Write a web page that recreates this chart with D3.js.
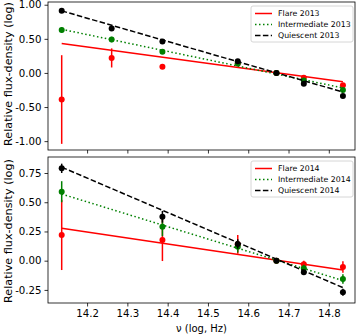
<!DOCTYPE html>
<html>
<head>
<meta charset="utf-8">
<script src="https://cdn.jsdelivr.net/npm/d3@7"></script>
<style>
  body { margin: 0; background: #fff; }
  svg { display: block; font-family: "DejaVu Sans", sans-serif; }
</style>
</head>
<body>
<div id="chart"></div>
<script>
var svgWidth = 357;
var svgHeight = 334;

// frequencies (log Hz)
var freq2013 = [14.137, 14.261, 14.387, 14.574, 14.670, 14.738, 14.835];
var freq2014 = [14.137, 14.387, 14.574, 14.670, 14.738, 14.835];

// 2013 points and errors
var flare2013 = [-0.39, 0.22, 0.09, 0.14, 0, -0.07, -0.18];
var flare2013Err = [0.65, 0.14, 0.01, 0.04, 0, 0.03, 0.03];
var inter2013 = [0.63, 0.49, 0.31, 0.14, 0, -0.11, -0.25];
var inter2013Err = [0.04, 0.04, 0.03, 0.03, 0, 0.03, 0.03];
var quies2013 = [0.91, 0.65, 0.46, 0.17, 0, -0.16, -0.34];
var quies2013Err = [0.02, 0.03, 0.02, 0.02, 0, 0.02, 0.02];

// 2014 points and errors
var flare2014 = [0.22, 0.177, 0.14, 0, -0.03, -0.054];
var flare2014Err = [0.30, 0.18, 0.08, 0, 0.03, 0.05];
var inter2014 = [0.59, 0.29, 0.12, 0, -0.065, -0.157];
var inter2014Err = [0.09, 0.08, 0.05, 0, 0.03, 0.04];
var quies2014 = [0.79, 0.376, 0.143, 0, -0.10, -0.27];
var quies2014Err = [0.04, 0.05, 0.04, 0, 0.02, 0.03];

// fitted power laws: value at first and last frequency
var flare2013Fit = [0.43, -0.13];
var inter2013Fit = [0.64, -0.22];
var quies2013Fit = [0.91, -0.28];
var flare2014Fit = [0.277, -0.08];
var inter2014Fit = [0.57, -0.17];
var quies2014Fit = [0.80, -0.23];

var xTicks = [14.2, 14.3, 14.4, 14.5, 14.6, 14.7, 14.8];
var yTicks2013 = [1.0, 0.5, 0.0, -0.5, -1.0];
var yTicks2014 = [0.75, 0.5, 0.25, 0.0, -0.25];

var red = "#ff0000", green = "#008000", black = "#000000";
var dashes = { solid: null, dotted: "1.5,2.5", dashed: "5.5,2.4" };

var margin = { left: 48, right: 2 };
var plotW = svgWidth - margin.left - margin.right;

var svg = d3.select("#chart").append("svg")
    .attr("width", svgWidth)
    .attr("height", svgHeight);

var x = d3.scaleLinear().domain([14.103, 14.865]).range([0, plotW]);

function drawPanel(top, height, yDomain, yTicks, freqs, series, showXLabels) {
    var y = d3.scaleLinear().domain(yDomain).range([height, 0]);
    var g = svg.append("g").attr("transform", `translate(${margin.left},${top})`);

    // series: error bars, points, fit lines
    series.forEach(function(s) {
        var pts = freqs.map((f, i) => ({ f: f, v: s.vals[i], e: s.err[i] }));
        g.selectAll(null).data(pts.filter(d => d.e > 0)).enter().append("line")
            .attr("x1", d => x(d.f)).attr("x2", d => x(d.f))
            .attr("y1", d => y(d.v - d.e)).attr("y2", d => y(d.v + d.e))
            .attr("stroke", s.color).attr("stroke-width", 1.5);
        g.selectAll(null).data(pts).enter().append("circle")
            .attr("cx", d => x(d.f)).attr("cy", d => y(d.v))
            .attr("r", 3).attr("fill", s.color);
        var fx = [freqs[0], freqs[freqs.length - 1]];
        g.append("line")
            .attr("x1", x(fx[0])).attr("y1", y(s.fit[0]))
            .attr("x2", x(fx[1])).attr("y2", y(s.fit[1]))
            .attr("stroke", s.color).attr("stroke-width", 1.5)
            .attr("stroke-dasharray", dashes[s.dash]);
    });

    // axes
    var xAxis = d3.axisBottom(x).tickValues(xTicks).tickSize(3.5).tickPadding(3)
        .tickFormat(showXLabels ? d3.format(".1f") : "");
    var yAxis = d3.axisLeft(y).tickValues(yTicks).tickSize(3.5).tickPadding(3)
        .tickFormat(d => d.toFixed(2));
    var gx = g.append("g").attr("transform", `translate(0,${height})`).call(xAxis);
    var gy = g.append("g").call(yAxis);
    [gx, gy].forEach(function(a) {
        a.select(".domain").remove();
        a.selectAll("text").attr("font-size", 10.2).attr("fill", "#000")
            .attr("font-family", "DejaVu Sans, sans-serif");
        a.selectAll("line").attr("stroke", "#000").attr("stroke-width", 0.8);
    });

    g.append("rect").attr("width", plotW).attr("height", height)
        .attr("fill", "none").attr("stroke", "#000").attr("stroke-width", 0.8);

    // legend
    var lg = g.append("g").attr("transform", `translate(${plotW - 104},4)`);
    lg.append("rect").attr("width", 102).attr("height", 36).attr("rx", 2)
        .attr("fill", "#fff").attr("fill-opacity", 0.8)
        .attr("stroke", "#ccc").attr("stroke-width", 0.8);
    series.forEach(function(s, i) {
        var ly = 7.5 + i * 11;
        lg.append("line").attr("x1", 4).attr("x2", 21).attr("y1", ly).attr("y2", ly)
            .attr("stroke", s.color).attr("stroke-width", 1.5)
            .attr("stroke-dasharray", dashes[s.dash]);
        lg.append("text").attr("x", 27).attr("y", ly).attr("dy", "0.35em")
            .attr("font-size", 7.8).attr("fill", "#000").text(s.label);
    });
}

drawPanel(2, 148, [-1.13, 1.04], yTicks2013, freq2013, [
    { label: "Flare 2013", vals: flare2013, err: flare2013Err, fit: flare2013Fit, color: red, dash: "solid" },
    { label: "Intermediate 2013", vals: inter2013, err: inter2013Err, fit: inter2013Fit, color: green, dash: "dotted" },
    { label: "Quiescent 2013", vals: quies2013, err: quies2013Err, fit: quies2013Fit, color: black, dash: "dashed" }
], false);

drawPanel(157, 146, [-0.362, 0.887], yTicks2014, freq2014, [
    { label: "Flare 2014", vals: flare2014, err: flare2014Err, fit: flare2014Fit, color: red, dash: "solid" },
    { label: "Intermediate 2014", vals: inter2014, err: inter2014Err, fit: inter2014Fit, color: green, dash: "dotted" },
    { label: "Quiescent 2014", vals: quies2014, err: quies2014Err, fit: quies2014Fit, color: black, dash: "dashed" }
], true);

// axis titles
svg.append("text").attr("transform", "translate(8,74) rotate(-90)")
    .attr("text-anchor", "middle").attr("dy", "0.35em").attr("font-size", 11.2)
    .text("Relative flux-density (log)");
svg.append("text").attr("transform", "translate(8,231) rotate(-90)")
    .attr("text-anchor", "middle").attr("dy", "0.35em").attr("font-size", 11.2)
    .text("Relative flux-density (log)");
svg.append("text").attr("x", margin.left + plotW / 2).attr("y", 328)
    .attr("text-anchor", "middle").attr("dy", "0.35em").attr("font-size", 10)
    .text("ν (log, Hz)");
</script>
</body>
</html>
